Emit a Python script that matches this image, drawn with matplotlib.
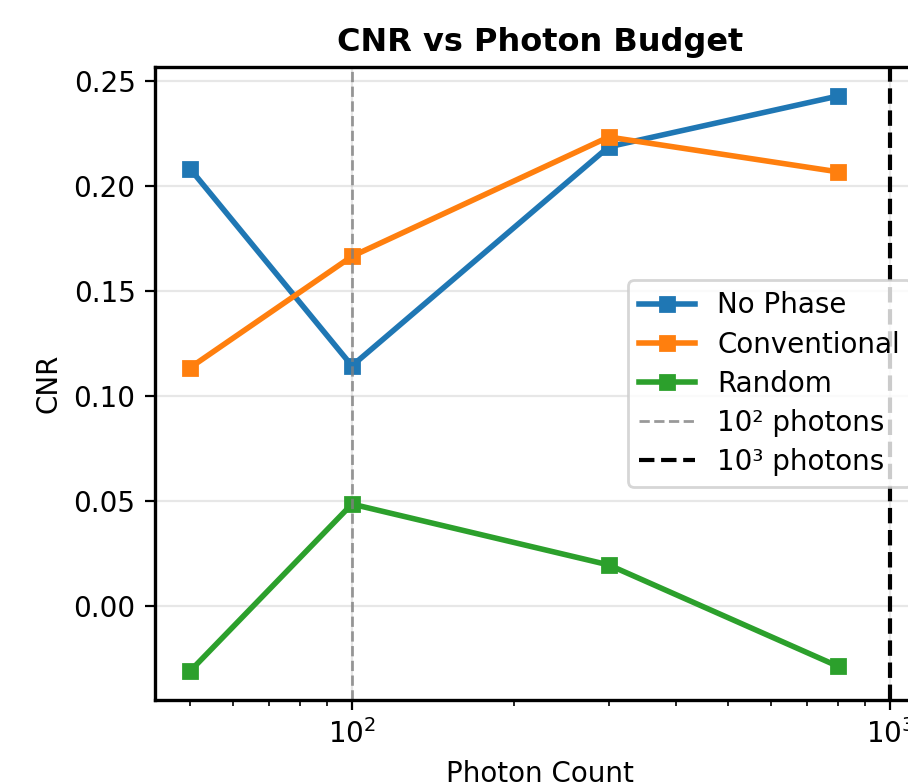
import numpy as np
import matplotlib.pyplot as plt

#** DADOS **
photons = [50, 100, 300, 800]
cnr_no_phase = [0.2083, 0.1143, 0.2187, 0.2429]
cnr_conventional = [0.1134, 0.1665, 0.2234, 0.2068]
cnr_random = [-0.0313, 0.0484, 0.0194, -0.0289]

#** FIGURA **
fig = plt.figure(figsize=(4.54, 3.915), dpi=200)
# eixo passa da borda direita (figura recortada)
ax = fig.add_axes([0.1707, 0.106, 0.848, 0.808])

ax.plot(photons, cnr_no_phase, 's-', color='tab:blue', lw=2, ms=5, label='No Phase')
ax.plot(photons, cnr_conventional, 's-', color='tab:orange', lw=2, ms=5, label='Conventional')
ax.plot(photons, cnr_random, 's-', color='tab:green', lw=2, ms=5, label='Random')
ax.axvline(100, color='gray', ls='--', lw=1, alpha=0.8, label='10² photons')
ax.axvline(1000, color='black', ls='--', lw=1.5, label='10³ photons')

ax.set_xscale('log')
ax.set_xlabel('Photon Count')
ax.set_ylabel('CNR')
ax.set_title('CNR vs Photon Budget', fontweight='bold', fontsize=11.5)
ax.grid(True, alpha=0.3)
ax.legend(loc='center right', labelspacing=0.4)
for s in ax.spines.values():
    s.set_linewidth(1.2)

fig.savefig('out.png', dpi=200)
